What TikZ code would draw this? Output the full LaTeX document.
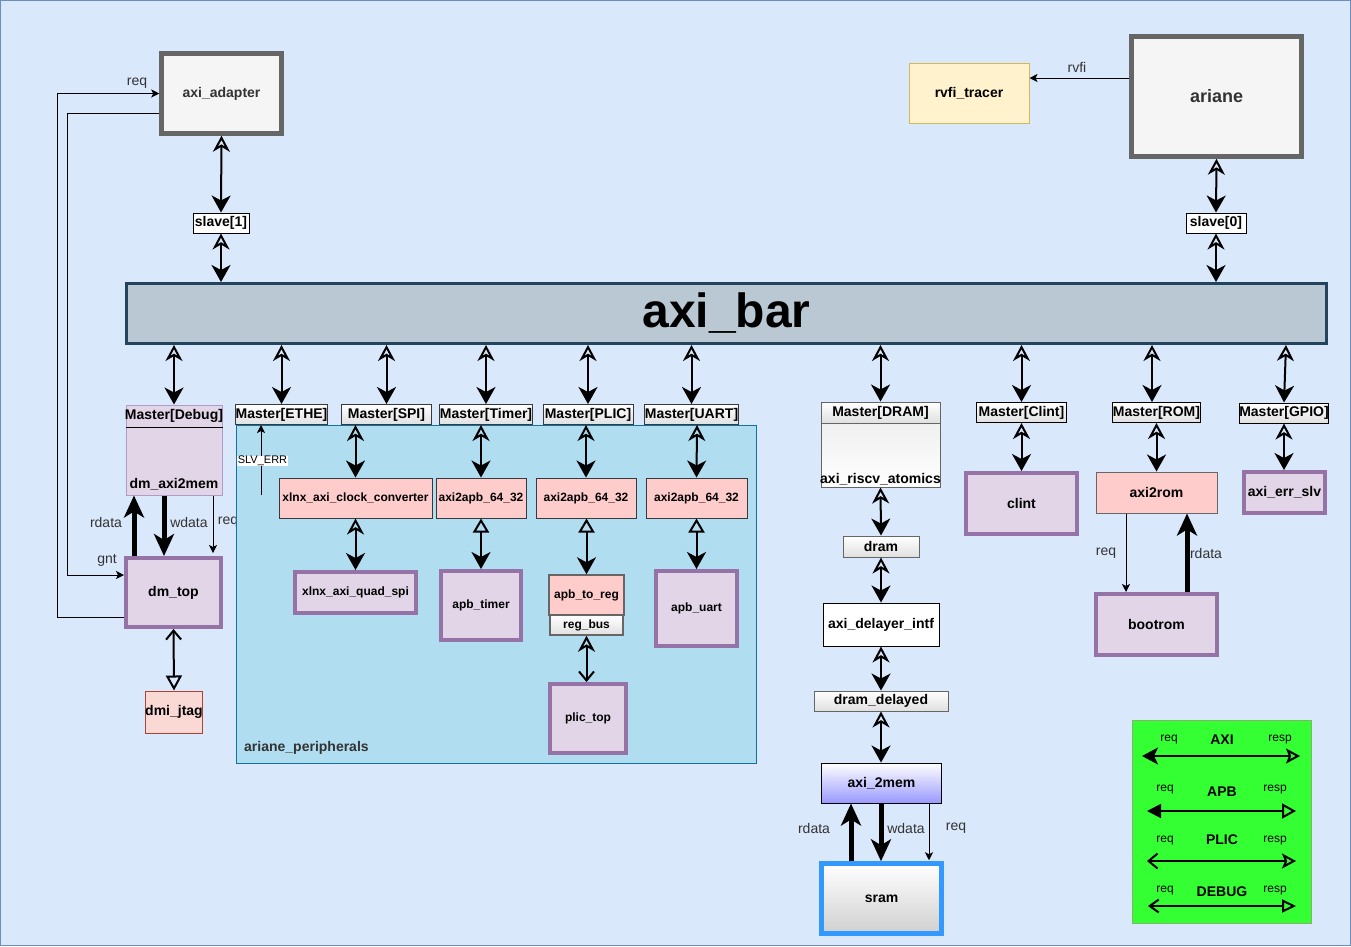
\documentclass[tikz,border=0pt]{standalone}
\usepackage{fontspec}
\setmainfont{Liberation Sans}
\usetikzlibrary{arrows.meta,shadings,calc}
\definecolor{bgF}{HTML}{DAE8FC}
\definecolor{bgD}{HTML}{6C8EBF}
\definecolor{grayD}{HTML}{666666}
\definecolor{grayF}{HTML}{F5F5F5}
\definecolor{txtG}{HTML}{333333}
\definecolor{purpD}{HTML}{9673A6}
\definecolor{purpL}{HTML}{B09CC6}
\definecolor{purpF}{HTML}{E1D5E7}
\definecolor{pinkF}{HTML}{FFCCCC}
\definecolor{darkD}{HTML}{36393D}
\definecolor{yelF}{HTML}{FFF2CC}
\definecolor{yelD}{HTML}{D6B656}
\definecolor{barF}{HTML}{BAC8D3}
\definecolor{barD}{HTML}{23445D}
\definecolor{perF}{HTML}{B1DDF0}
\definecolor{perD}{HTML}{10739E}
\definecolor{jtagF}{HTML}{FAD9D5}
\definecolor{jtagD}{HTML}{AE4132}
\definecolor{sramD}{HTML}{3399FF}
\definecolor{sramG}{HTML}{D0D0D0}
\definecolor{memB}{HTML}{9999FF}
\definecolor{legF}{HTML}{33FF33}
\definecolor{legD}{HTML}{82B366}
\definecolor{gradG}{HTML}{E0E0E0}
\definecolor{gradG2}{HTML}{EBEBEB}
\begin{document}
\begin{tikzpicture}[x=1pt,y=-1pt,
  b14/.style={font=\bfseries\fontsize{14}{17}\selectfont},
  b12/.style={font=\bfseries\fontsize{12}{14}\selectfont},
  box/.style={draw, inner sep=0pt, align=center, text=black},
  gbox/.style={box, b14, draw=grayD, line width=4.5pt, fill=grayF, text=txtG},
  pbox/.style={box, b14, draw=purpD, line width=4pt, fill=purpF},
  pinkbox/.style={box, b12, draw=darkD, line width=1pt, fill=pinkF},
  mbox/.style={box, b14, draw=darkD, line width=1pt, top color=white, bottom color=gradG},
  mboxk/.style={mbox, draw=black},
  wbox/.style={box, b14, draw=black, line width=1pt, fill=white},
  lab/.style={font=\fontsize{14}{17}\selectfont, text=txtG, inner sep=0pt},
  leglab/.style={font=\fontsize{12}{14}\selectfont, text=black, inner sep=0pt},
  axi/.style={line width=2pt, {Stealth[open,length=16pt,width=17pt,inset=5pt]}-{Stealth[length=17pt,width=19pt,inset=5pt]}},
  apb/.style={line width=2pt, {Triangle[open,length=14pt,width=16pt]}-{Stealth[length=17pt,width=19pt,inset=5pt]}},
  plicarr/.style={line width=2pt, {Stealth[open,length=16pt,width=17pt,inset=5pt]}-{Straight Barb[length=9pt,width=15pt]}},
  dbgarr/.style={line width=2pt, {Straight Barb[length=9pt,width=15pt]}-{Triangle[open,length=15pt,width=16pt]}},
  thinarr/.style={line width=1pt, -{Stealth[length=8pt,width=8pt,inset=2pt]}},
  fat/.style={line width=5pt, -{Stealth[length=22pt,width=20pt,inset=6pt]}}
]
\useasboundingbox (0,0) rectangle (1351,946);
\fill[bgF] (0,0) rectangle (1351,946);
\draw[bgD, line width=1pt] (0.5,0.5) rectangle (1350.5,945.5);

% label partly hidden by container
\node[lab] (lreqdbg) at (228,522) {req};

% peripherals container
\node[draw=perD, fill=perF, line width=1pt, minimum width=520pt, minimum height=338pt, inner sep=0pt] (periph) at (496,594) {};
\node[b14, anchor=west, inner sep=0pt, text=txtG] (lperiph) at (244,748) {ariane\_peripherals};

% top row
\node[gbox, minimum width=120pt, minimum height=80pt] (adp) at (221.5,93.5) {axi\_adapter};
\node[gbox, minimum width=170pt, minimum height=120pt, font=\bfseries\fontsize{18}{22}\selectfont] (ariane) at (1216.5,96.5) {ariane};
\node[box, b14, draw=yelD, fill=yelF, line width=1pt, minimum width=120pt, minimum height=60pt] (rvfi) at (969,93.5) {rvfi\_tracer};
\node[wbox, minimum width=56pt, minimum height=20pt] (s1) at (221,223) {slave[1]};
\node[wbox, minimum width=60pt, minimum height=20pt] (s0) at (1216,223) {slave[0]};
\node[box, draw=barD, fill=barF, line width=3pt, minimum width=1200pt, minimum height=60pt, font=\bfseries\fontsize{48}{56}\selectfont] (bar) at (726.5,313.5) {axi\_bar};

% masters
\node[mbox, minimum width=90pt, minimum height=20pt] (methe) at (281.5,414.5) {Master[ETHE]};
\node[mbox, minimum width=90pt, minimum height=20pt] (mspi) at (386.5,414.5) {Master[SPI]};
\node[mbox, minimum width=90pt, minimum height=20pt] (mtimer) at (486,414.5) {Master[Timer]};
\node[mbox, minimum width=90pt, minimum height=20pt] (mplic) at (588,414.5) {Master[PLIC]};
\node[mbox, minimum width=90pt, minimum height=20pt] (muart) at (691.5,414.5) {Master[UART]};

% Master[Debug] swimlane
\node[box, draw=purpL, fill=purpF, line width=1pt, minimum width=96pt, minimum height=90pt] (mdbg) at (174,450) {};
\draw[black, line width=1pt] (mdbg.west |- 0,427) -- (mdbg.east |- 0,427);
\node[b14, inner sep=0pt] (tdbg) at (174,416) {Master[Debug]};
\node[b14, inner sep=0pt] (tdm) at (174,484) {dm\_axi2mem};

% Master[DRAM] swimlane
\node[box, draw=grayD, line width=1pt, top color=gradG2, bottom color=white, minimum width=119pt, minimum height=85pt] (mdram) at (880.5,444.5) {};
\node[box, b14, draw=grayD, line width=1pt, top color=white, bottom color=gradG, minimum width=119pt, minimum height=21pt] (mdramh) at (880.5,412.5) {Master[DRAM]};
\node[b14, inner sep=0pt] (tatom) at (880.5,479) {axi\_riscv\_atomics};

% DRAM chain
\node[mbox, draw=grayD, minimum width=76pt, minimum height=21pt] (dram) at (881,546.5) {dram};
\node[wbox, minimum width=116pt, minimum height=43pt] (adly) at (881,624.5) {axi\_delayer\_intf};
\node[mbox, draw=grayD, minimum width=134pt, minimum height=20pt] (ddly) at (881,701) {dram\_delayed};
\node[box, b14, draw=black, line width=1pt, top color=white, bottom color=memB, minimum width=120pt, minimum height=40pt] (a2m) at (881.5,783) {axi\_2mem};
\node[box, b14, draw=sramD, line width=4.5pt, top color=white, bottom color=sramG, minimum width=120pt, minimum height=70pt] (sram) at (881.5,898.5) {sram};

% right side
\node[mboxk, minimum width=90pt, minimum height=20pt] (mclint) at (1021.5,412.5) {Master[Clint]};
\node[pbox, minimum width=111pt, minimum height=61pt] (clint) at (1021.5,503.5) {clint};
\node[mboxk, minimum width=88pt, minimum height=20pt] (mrom) at (1156.5,412.5) {Master[ROM]};
\node[box, b14, draw=grayD, line width=1pt, fill=pinkF, minimum width=121pt, minimum height=41pt] (a2rom) at (1156.5,492.5) {axi2rom};
\node[pbox, minimum width=121pt, minimum height=61pt] (boot) at (1156.5,624.5) {bootrom};
\node[mboxk, minimum width=86pt, minimum height=20pt] (mgpio) at (1284,413) {Master[GPIO]};
\node[pbox, minimum width=81pt, minimum height=41pt] (aerr) at (1284.5,492.5) {axi\_err\_slv};

% peripherals
\node[pinkbox, minimum width=153pt, minimum height=40pt] (clk) at (355.5,498) {xlnx\_axi\_clock\_converter};
\node[pinkbox, minimum width=90pt, minimum height=40pt] (apbT) at (481,498) {axi2apb\_64\_32};
\node[pinkbox, minimum width=100pt, minimum height=40pt] (apbP) at (586,498) {axi2apb\_64\_32};
\node[pinkbox, minimum width=101pt, minimum height=40pt] (apbU) at (696.5,498) {axi2apb\_64\_32};
\node[pbox, b12, minimum width=121pt, minimum height=41pt] (qspi) at (355.5,592.5) {xlnx\_axi\_quad\_spi};
\node[pbox, b12, minimum width=80pt, minimum height=69pt] (timer) at (481,605.5) {apb\_timer};
\node[pinkbox, draw=grayD, line width=1.5pt, minimum width=75pt, minimum height=40pt] (a2reg) at (586.5,595) {apb\_to\_reg};
\node[mbox, b12, draw=grayD, line width=1.5pt, minimum width=73pt, minimum height=20pt] (rbus) at (586.5,625) {reg\_bus};
\node[pbox, b12, minimum width=76pt, minimum height=69pt] (plic) at (588,718.5) {plic\_top};
\node[pbox, b12, minimum width=81pt, minimum height=75pt] (uart) at (696.5,608.5) {apb\_uart};

% left
\node[pbox, minimum width=95pt, minimum height=69pt] (dmtop) at (173.5,592.5) {dm\_top};
\node[box, b14, draw=jtagD, fill=jtagF, line width=1pt, minimum width=56pt, minimum height=42pt] (jtag) at (174,712) {dmi\_jtag};

% ---- connectors ----
\draw[axi] (adp.south) -- (s1.north);
\draw[axi] (s1.south) -- (bar.north -| s1.south);
\draw[axi] (ariane.south) -- (s0.north);
\draw[axi] (s0.south) -- (bar.north -| s0.south);
\draw[thinarr] ([yshift=18.5pt]ariane.west) -- ([yshift=15.5pt]rvfi.east);
\node[lab] (lrvfi) at (1077,67) {rvfi};

\draw[axi] (bar.south -| mdbg.north) -- (mdbg.north);
\draw[axi] (bar.south -| methe.north) -- (methe.north);
\draw[axi] (bar.south -| mspi.north) -- (mspi.north);
\draw[axi] (bar.south -| mtimer.north) -- (mtimer.north);
\draw[axi] (bar.south -| mplic.north) -- (mplic.north);
\draw[axi] (bar.south -| muart.north) -- (muart.north);
\draw[axi] (bar.south -| mdramh.north) -- (mdramh.north);
\draw[axi] (bar.south -| mclint.north) -- (mclint.north);
\coordinate (romtop) at ([xshift=-4.5pt]mrom.north);
\draw[axi] (bar.south -| romtop) -- (romtop);
\coordinate (gpiotop) at (1286,345);
\draw[axi] (gpiotop) -- (mgpio.north);

% peripherals connectors
\draw[axi] (mspi.south -| clk.north) -- (clk.north);
\draw[axi] (clk.south -| qspi.north) -- (qspi.north);
\draw[axi] (mtimer.south -| apbT.north) -- (apbT.north);
\draw[apb] (apbT.south) -- (timer.north);
\draw[axi] (mplic.south -| apbP.north) -- (apbP.north);
\draw[apb] (apbP.south -| a2reg.north) -- (a2reg.north);
\draw[plicarr] (rbus.south) -- (plic.north -| rbus.south);
\coordinate (uarttop) at ([xshift=5.5pt]muart.south);
\draw[axi] (uarttop) -- (apbU.north);
\draw[apb] (apbU.south) -- (uart.north);
\coordinate (slv0) at (261,495);
\draw[thinarr] (slv0) -- (slv0 |- methe.south);
\node[fill=white, inner sep=0.5pt, font=\fontsize{11}{13}\selectfont] (lslv) at (262.5,461) {SLV\_ERR};

% debug side
\draw[fat] ([xshift=-39.5pt]dmtop.north) -- ([xshift=-40pt]mdbg.south);
\draw[fat] ([xshift=-10pt]mdbg.south) -- ([xshift=-9.5pt]dmtop.north);
\draw[thinarr, shorten >=3pt] ([xshift=39pt]mdbg.south) -- ([xshift=39.5pt]dmtop.north);
\node[lab] (lrd1) at (106,522) {rdata};
\node[lab] (lwd1) at (189,522) {wdata};
\coordinate (gntc) at (67,575);
\draw[thinarr] ([yshift=-19.5pt]adp.west) -| (gntc) -- (dmtop.west |- gntc);
\node[lab] (lgnt) at (107,560) {gnt};
\coordinate (reqc) at (57,93.5);
\draw[thinarr] ([yshift=-24.5pt]dmtop.west) -| (reqc) -- (adp.west);
\node[lab] (lreqa) at (137,83) {req};
\draw[dbgarr] (dmtop.south) -- (jtag.north);

% dram chain
\draw[axi] (mdram.south) -- (dram.north);
\draw[axi] (dram.south) -- (adly.north);
\draw[axi] (adly.south) -- (ddly.north);
\draw[axi] (ddly.south) -- (a2m.north -| ddly.south);
\draw[fat] ([xshift=-30.5pt]sram.north) -- ([xshift=-30.5pt]a2m.south);
\draw[fat] ([xshift=-0.5pt]a2m.south) -- ([xshift=-0.5pt]sram.north);
\draw[thinarr, shorten >=1pt] ([xshift=47.5pt]a2m.south) -- ([xshift=47.5pt]sram.north);
\node[lab] (lrd2) at (814,828) {rdata};
\node[lab] (lwd2) at (906,828) {wdata};
\node[lab] (lrq2) at (956,828) {req};

% right connectors
\draw[axi] (mclint.south) -- (clint.north);
\draw[axi] (mrom.south) -- (a2rom.north);
\draw[axi] (mgpio.south) -- (aerr.north -| mgpio.south);
\draw[thinarr] ([xshift=-30.5pt]a2rom.south) -- ([xshift=-30.5pt]boot.north);
\draw[fat] ([xshift=30.5pt]boot.north) -- ([xshift=30.5pt]a2rom.south);
\node[lab] (lrq3) at (1106,553) {req};
\node[lab] (lrd3) at (1206,553) {rdata};

% legend
\node[box, draw=legD, fill=legF, line width=1pt, minimum width=179pt, minimum height=203pt] (leg) at (1221.5,821.5) {};
\coordinate (la1) at (1142,756); \coordinate (la2) at (1300,756);
\coordinate (lb1) at (1147,811); \coordinate (lb2) at (1296,811);
\coordinate (lc1) at (1147,861); \coordinate (lc2) at (1296,861);
\coordinate (ld1) at (1148,906); \coordinate (ld2) at (1296,906);
\draw[line width=2pt, {Stealth[length=16pt,width=17pt,inset=4pt]}-{Stealth[open,length=14pt,width=15pt,inset=3pt]}] (la1) -- (la2);
\draw[line width=2pt, {Triangle[length=14pt,width=14pt]}-{Triangle[open,length=14pt,width=15pt]}] (lb1) -- (lb2);
\draw[line width=2pt, {Straight Barb[length=9pt,width=15pt]}-{Stealth[open,length=14pt,width=15pt,inset=3pt]}] (lc1) -- (lc2);
\draw[line width=2pt, {Straight Barb[length=9pt,width=13pt]}-{Triangle[open,length=14pt,width=13pt]}] (ld1) -- (ld2);
\node[leglab] (lg1) at (1169,740) {req};
\node[b14, inner sep=0pt] (lg2) at (1222,740) {AXI};
\node[leglab] (lg3) at (1280,740) {resp};
\node[leglab] (lg4) at (1165,790) {req};
\node[b14, inner sep=0pt] (lg5) at (1222,792) {APB};
\node[leglab] (lg6) at (1275,790) {resp};
\node[leglab] (lg7) at (1165,840) {req};
\node[b14, inner sep=0pt] (lg8) at (1222,840) {PLIC};
\node[leglab] (lg9) at (1275,840) {resp};
\node[leglab] (lg10) at (1165,890) {req};
\node[b14, inner sep=0pt] (lg11) at (1222,892) {DEBUG};
\node[leglab] (lg12) at (1275,890) {resp};
\end{tikzpicture}
\end{document}
